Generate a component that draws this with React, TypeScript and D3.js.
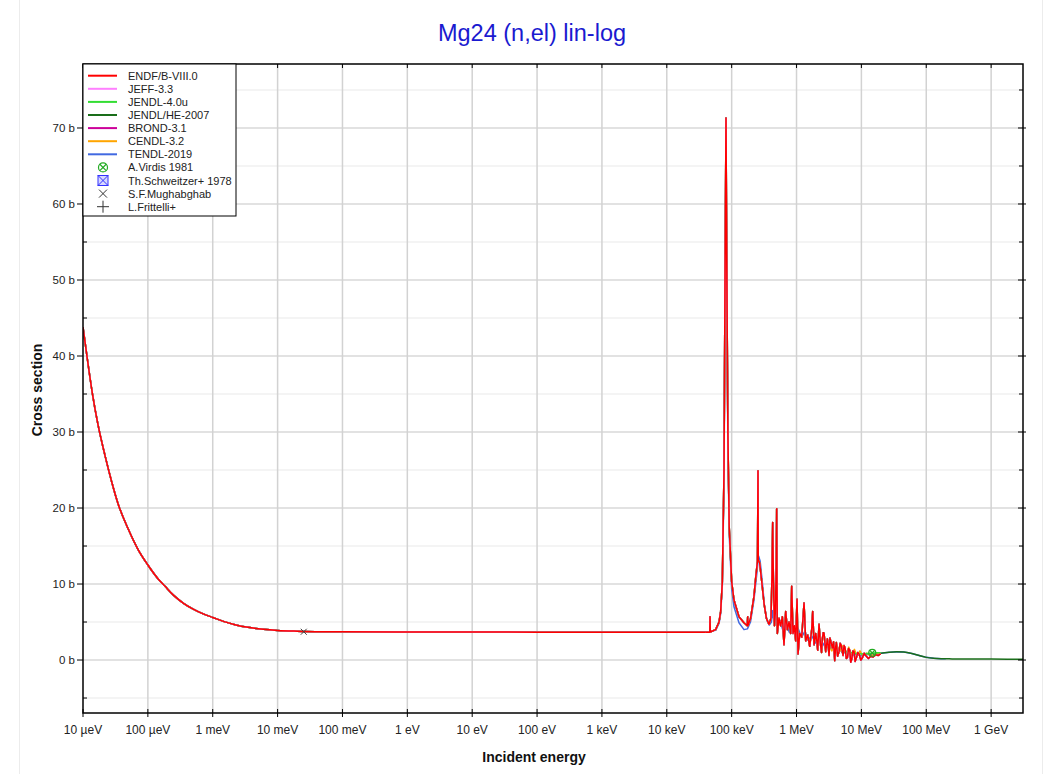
import React from 'react';
import * as d3 from 'd3';

const W = 1049, H = 774;
const PL = 83, PR = 1023, PT = 64, PB = 713;

const titleText = 'Mg24 (n,el) lin-log';
const xTickValues = [1e-5, 1e-4, 1e-3, 1e-2, 1e-1, 1, 10, 100, 1e3, 1e4, 1e5, 1e6, 1e7, 1e8, 1e9];
const xTickLabels = ['10 µeV', '100 µeV', '1 meV', '10 meV', '100 meV', '1 eV', '10 eV', '100 eV', '1 keV', '10 keV', '100 keV', '1 MeV', '10 MeV', '100 MeV', '1 GeV'];
const yMajorTicks = [0, 10, 20, 30, 40, 50, 60, 70];
const yMinorTicks = [-5, 5, 15, 25, 35, 45, 55, 65, 75];

// Low energy (shared by all evaluations), eV / barn
const lowE = [1e-5, 1.15e-5, 1.4e-5, 1.7e-5, 2.2e-5, 2.8e-5, 3.46e-5, 5e-5, 7e-5, 1e-4, 1.4e-4, 1.84e-4, 2.5e-4, 3.5e-4, 5e-4, 7e-4, 1e-3, 1.5e-3, 2.2e-3, 3.5e-3, 6e-3, 1e-2, 2e-2, 5e-2, 0.1, 1, 100, 1e4, 4e4];
const lowXS = [43.8, 40.0, 35.0, 31.0, 26.8, 23.3, 20.6, 17.2, 14.6, 12.5, 10.8, 9.7, 8.5, 7.5, 6.7, 6.1, 5.6, 5.05, 4.65, 4.3, 4.05, 3.9, 3.8, 3.73, 3.71, 3.69, 3.67, 3.66, 3.65];

// ENDF/B-VIII.0 resonance region
const endfResE = [4.0e4, 4.6e4, 4.64e4, 4.68e4, 5.66e4, 6.38e4, 6.77e4, 7.18e4, 7.62e4, 7.89e4, 8.18e4, 8.38e4, 8.74e4, 9.16e4, 1.0e5, 1.086e5, 1.297e5, 1.549e5, 1.739e5, 1.766e5, 1.78e5, 1.96e5, 2.21e5, 2.346e5, 2.5e5, 2.547e5, 2.57e5, 2.7e5, 2.91e5, 3.16e5, 3.43e5, 3.76e5, 4.04e5, 4.19e5, 4.29e5, 4.4e5, 4.57e5, 4.72e5, 4.88e5, 4.94e5, 5.0e5,
  5.06e5, 5.37e5, 5.7e5, 6.05e5, 6.41e5, 6.81e5, 7.22e5, 7.66e5, 8.13e5, 8.42e5, 8.83e5, 9.26e5, 9.71e5, 1.018e6, 1.055e6, 1.119e6, 1.202e6, 1.305e6, 1.385e6, 1.487e6, 1.597e6, 1.714e6, 1.776e6, 1.862e6, 1.975e6, 2.05e6, 2.121e6, 2.223e6, 2.29e6, 2.36e6, 2.43e6, 2.503e6, 2.58e6, 2.656e6, 2.818e6, 2.99e6, 3.08e6, 3.172e6, 3.27e6, 3.365e6, 3.57e6, 3.72e6, 3.88e6, 4.0e6, 4.116e6, 4.3e6, 4.524e6, 4.7e6, 4.859e6, 5.215e6, 5.4e6, 5.6e6, 5.85e6, 6.083e6, 6.35e6, 6.608e6, 6.85e6, 7.094e6, 7.4e6, 7.71e6, 8.0e6, 8.375e6, 8.8e6, 9.205e6, 9.8e6, 1.036e7, 1.1e7, 1.167e7, 1.28e7, 1.393e7, 1.52e7, 1.664e7, 1.82e7, 1.987e7];
const endfResXS = [3.65, 3.67, 5.7, 3.68, 4.0, 5.0, 6.4, 10.3, 24.9, 49, 71.3, 54, 30, 17.6, 10.3, 7.9, 5.7, 4.9, 4.5, 5.7, 4.5, 5.5, 8.4, 10.8, 13.0, 24.9, 13.2, 12.8, 10.3, 7.4, 5.5, 4.7, 5.5, 11.3, 18.1, 10.3, 4.5, 6.4, 12.8, 19.9, 10.3,
  3.5, 5.5, 4.5, 5.7, 2.0, 6.4, 4.0, 5.0, 3.5, 9.7, 3.5, 4.5, 2.5, 8.0, 0.8, 3.5, 3.0, 7.5, 2.5, 3.3, 1.8, 4.0, 6.4, 2.0, 3.5, 2.6, 1.3, 4.7, 3.1, 1.8, 1.0, 2.8, 3.6, 3.5, 1.1, 2.8, 1.9, 0.6, 2.9, 2.5, 1.6, 2.4, -0.1, 1.7, 2.3, 0.5, 1.1, 2.2, 2.0, 0.6, 1.9, 1.6, 0.2, 0.3, 1.5, 1.3, -0.3, 0.1, 1.2, 1.1, -0.2, 0.3, 1.0, 0.8, 0.0, 0.3, 0.9, 0.6, 0.2, 0.5, 0.4, 0.7, 0.6, 0.8];

// TENDL-2019 (resonance + high energy up to 200 MeV)
const tendlE = [4.0e4, 5.66e4, 6.38e4, 6.77e4, 7.18e4, 7.62e4, 7.89e4, 8.18e4, 8.38e4, 8.74e4, 9.16e4, 1.0e5, 1.086e5, 1.297e5, 1.55e5, 1.75e5, 1.95e5, 2.2e5, 2.45e5, 2.6e5, 2.75e5, 2.95e5, 3.2e5, 3.5e5, 3.8e5, 4.1e5, 4.3e5, 4.5e5, 4.7e5, 4.77e5, 4.85e5, 5.1e5, 5.6e5, 6.2e5, 7.0e5, 7.8e5, 8.6e5, 9.5e5, 1.05e6, 1.2e6, 1.35e6, 1.5e6, 1.7e6, 2.0e6, 2.4e6, 2.8e6, 3.3e6, 3.8e6, 4.5e6, 5.2e6, 6.0e6, 7.0e6, 8.5e6, 1.0e7, 1.2e7, 1.5e7, 2.0e7, 2.5e7, 3.5e7, 4.5e7, 6.0e7, 8.0e7, 1.0e8, 1.3e8, 1.7e8, 2.0e8];
const tendlXS = [3.65, 3.9, 4.8, 6.1, 9.8, 23.5, 46, 67, 51, 28.5, 16.6, 9.4, 7.0, 4.9, 4.0, 4.1, 5.0, 7.8, 11.5, 13.7, 13.0, 10.5, 7.2, 5.2, 4.6, 5.0, 6.5, 5.0, 6.5, 12.0, 6.0, 4.5, 5.2, 3.8, 4.6, 3.6, 4.8, 3.3, 4.2, 3.0, 3.8, 2.6, 3.2, 2.2, 2.6, 1.6, 2.0, 1.2, 1.5, 0.9, 1.1, 0.6, 0.8, 0.55, 0.7, 0.8, 0.9, 1.0, 1.1, 1.05, 0.85, 0.55, 0.35, 0.22, 0.17, 0.16];

// CENDL-3.2 fast region differences
const cendlTailE = [3.0e6, 3.5e6, 4.0e6, 4.6e6, 5.2e6, 5.8e6, 6.4e6, 7.0e6, 7.8e6, 8.6e6, 9.5e6, 1.05e7, 1.2e7, 1.4e7, 1.7e7, 2.0e7];
const cendlTailXS = [2.6, 1.2, 2.3, 1.1, 1.9, 0.8, 1.7, 0.6, 1.4, 0.5, 1.2, 0.5, 0.9, 0.6, 0.8, 0.85];

// JENDL-4.0u fast region differences
const jendl4TailE = [6.0e6, 7.0e6, 8.0e6, 9.0e6, 1.0e7, 1.2e7, 1.4e7, 1.7e7, 2.0e7];
const jendl4TailXS = [1.1, 1.0, 0.9, 0.85, 0.8, 0.85, 0.9, 0.95, 0.95];

// JENDL/HE-2007 high energy
const jendlHeE = [2.0e7, 2.5e7, 3.5e7, 4.5e7, 6.0e7, 8.0e7, 1.0e8, 1.3e8, 1.7e8, 2.5e8, 5.0e8, 1.0e9, 3.1e9];
const jendlHeXS = [0.9, 1.0, 1.1, 1.05, 0.85, 0.55, 0.35, 0.22, 0.17, 0.15, 0.13, 0.12, 0.11];

// Experimental data
const virdisE = [1.47e7];
const virdisXS = [0.95];
const mughabE = [0.0253];
const mughabXS = [3.72];

const libNames = ['ENDF/B-VIII.0', 'JEFF-3.3', 'JENDL-4.0u', 'JENDL/HE-2007', 'BROND-3.1', 'CENDL-3.2', 'TENDL-2019'];
const libColors = ['#ff0000', '#ff80ff', '#33dd33', '#1a6e1a', '#cc0099', '#ffa500', '#4169e1'];
const expNames = ['A.Virdis 1981', 'Th.Schweitzer+ 1978', 'S.F.Mughabghab', 'L.Frittelli+'];

type P = [number, number];
const zip = (a: number[], b: number[]): P[] => a.map((v, i) => [v, b[i]]);

export default function App() {
  const x = d3.scaleLog().domain([1e-5, 3.1e9]).range([PL, PR]);
  const y = d3.scaleLinear().domain([-6.97, 78.42]).range([PB, PT]);
  const lin = d3.line<P>().x(d => x(d[0])).y(d => y(d[1]));
  const smooth = d3.line<P>().x(d => x(d[0])).y(d => y(d[1])).curve(d3.curveMonotoneX);

  const low = zip(lowE, lowXS);
  const endfRes = zip(endfResE, endfResXS);
  const endfBelow3 = endfRes.filter(d => d[0] < 2.95e6);
  const endfBelow6 = endfRes.filter(d => d[0] < 5.95e6);

  // series in drawing order (bottom -> top)
  const series: { color: string; paths: string[] }[] = [
    { color: libColors[6], paths: [smooth(low) || '', lin(zip(tendlE, tendlXS)) || ''] },
    { color: libColors[5], paths: [smooth(low) || '', lin([...endfBelow3, ...zip(cendlTailE, cendlTailXS)]) || ''] },
    { color: libColors[4], paths: [smooth(low) || '', lin(endfRes) || ''] },
    { color: libColors[3], paths: [smooth(low) || '', lin(endfRes) || '', smooth(zip(jendlHeE, jendlHeXS)) || ''] },
    { color: libColors[2], paths: [smooth(low) || '', lin([...endfBelow6, ...zip(jendl4TailE, jendl4TailXS)]) || ''] },
    { color: libColors[1], paths: [smooth(low) || '', lin(endfRes) || ''] },
    { color: libColors[0], paths: [smooth(low) || '', lin(endfRes) || ''] },
  ];

  const font = "'Liberation Sans', Arial, sans-serif";
  const legendRowY = (i: number) => 75.7 + i * 13.1;

  const crossCircle = (cx: number, cy: number, r: number, color: string, key: string) => (
    <g key={key} stroke={color} strokeWidth={1.2} fill="none">
      <circle cx={cx} cy={cy} r={r} />
      <line x1={cx - r * 0.7} y1={cy - r * 0.7} x2={cx + r * 0.7} y2={cy + r * 0.7} />
      <line x1={cx - r * 0.7} y1={cy + r * 0.7} x2={cx + r * 0.7} y2={cy - r * 0.7} />
    </g>
  );

  return (
    <svg width={W} height={H} style={{ position: 'absolute', left: 0, top: 0, background: '#fff' }} fontFamily={font}>
      <defs>
        <clipPath id="plotClip">
          <rect x={PL} y={PT} width={PR - PL} height={PB - PT} />
        </clipPath>
      </defs>
      <line x1={19.5} y1={0} x2={19.5} y2={H} stroke="#ececec" strokeWidth={1} />
      <line x1={1042.5} y1={0} x2={1042.5} y2={H} stroke="#ececec" strokeWidth={1} />

      <text x={532} y={41} textAnchor="middle" fontSize={23.5} fill="#1a1ad0">{titleText}</text>

      {/* grid */}
      <g>
        {yMinorTicks.map(v => (
          <line key={'ym' + v} x1={PL} x2={PR} y1={y(v)} y2={y(v)} stroke="#f0f0f0" strokeWidth={1.5} />
        ))}
        {yMajorTicks.map(v => (
          <line key={'yg' + v} x1={PL} x2={PR} y1={y(v)} y2={y(v)} stroke="#d9d9d9" strokeWidth={1.5} />
        ))}
        {xTickValues.slice(1).map(v => (
          <line key={'xg' + v} x1={x(v)} x2={x(v)} y1={PT} y2={PB} stroke="#d2d2d2" strokeWidth={1.5} />
        ))}
      </g>

      {/* data */}
      <g clipPath="url(#plotClip)" fill="none" strokeLinejoin="round">
        {series.map((s, i) => (
          <g key={'s' + i} stroke={s.color} strokeWidth={1.5}>
            {s.paths.map((p, j) => <path key={j} d={p} />)}
          </g>
        ))}
        {virdisE.map((e, i) => crossCircle(x(e), y(virdisXS[i]), 3.5, '#22aa22', 'v' + i))}
        {mughabE.map((e, i) => {
          const cx = x(e), cy = y(mughabXS[i]);
          return (
            <g key={'m' + i} stroke="#444" strokeWidth={1}>
              <line x1={cx - 3} y1={cy - 3} x2={cx + 3} y2={cy + 3} />
              <line x1={cx - 3} y1={cy + 3} x2={cx + 3} y2={cy - 3} />
            </g>
          );
        })}
      </g>

      {/* frame */}
      <rect x={PL} y={PT} width={PR - PL} height={PB - PT} fill="none" stroke="#000" strokeWidth={1.5} />

      {/* axis ticks */}
      <g stroke="#000" strokeWidth={1}>
        {yMajorTicks.map(v => (
          <g key={'yt' + v}>
            <line x1={PL - 6} x2={PL} y1={y(v)} y2={y(v)} />
            <line x1={PR - 5} x2={PR + 3} y1={y(v)} y2={y(v)} />
          </g>
        ))}
        {yMinorTicks.map(v => (
          <g key={'ymt' + v}>
            <line x1={PL} x2={PL + 4} y1={y(v)} y2={y(v)} />
            <line x1={PR - 4} x2={PR} y1={y(v)} y2={y(v)} />
          </g>
        ))}
        {xTickValues.map(v => (
          <g key={'xt' + v}>
            <line x1={x(v)} x2={x(v)} y1={PB - 4} y2={PB + 4} />
            <line x1={x(v)} x2={x(v)} y1={PT} y2={PT + 4} />
          </g>
        ))}
      </g>

      <g fill="#222">
        {yMajorTicks.map(v => (
          <text key={'yl' + v} x={75} y={y(v) + 4} textAnchor="end" fontSize={11.5}>{v + ' b'}</text>
        ))}
        {xTickValues.map((v, i) => (
          <text key={'xl' + v} x={x(v)} y={734} textAnchor="middle" fontSize={12}>{xTickLabels[i]}</text>
        ))}
      </g>

      <text x={534} y={762} textAnchor="middle" fontSize={14} fontWeight="bold" fill="#111">Incident energy</text>
      <text transform="translate(42,390) rotate(-90)" textAnchor="middle" fontSize={14} fontWeight="bold" fill="#111">Cross section</text>

      {/* legend */}
      <g>
        <rect x={PL} y={PT} width={153} height={152} fill="#fff" stroke="#000" strokeWidth={1} />
        {libNames.map((n, i) => (
          <g key={'lg' + i}>
            <line x1={88} x2={117} y1={legendRowY(i)} y2={legendRowY(i)} stroke={libColors[i]} strokeWidth={2} />
            <text x={128} y={legendRowY(i) + 4} fontSize={11} fill="#222">{n}</text>
          </g>
        ))}
        {expNames.map((n, k) => {
          const i = k + libNames.length;
          const cy = legendRowY(i);
          const cx = 103;
          let marker: React.ReactNode = null;
          if (k === 0) marker = crossCircle(cx, cy, 4.5, '#22aa22', 'lv');
          if (k === 1) marker = (
            <g stroke="#3333ff" strokeWidth={1} fill="#d8d8ff">
              <rect x={cx - 5} y={cy - 5} width={10} height={10} />
              <line x1={cx - 5} y1={cy - 5} x2={cx + 5} y2={cy + 5} />
              <line x1={cx - 5} y1={cy + 5} x2={cx + 5} y2={cy - 5} />
            </g>
          );
          if (k === 2) marker = (
            <g stroke="#333" strokeWidth={1}>
              <line x1={cx - 4} y1={cy - 4} x2={cx + 4} y2={cy + 4} />
              <line x1={cx - 4} y1={cy + 4} x2={cx + 4} y2={cy - 4} />
            </g>
          );
          if (k === 3) marker = (
            <g stroke="#333" strokeWidth={1}>
              <line x1={cx - 6} y1={cy} x2={cx + 6} y2={cy} />
              <line x1={cx} y1={cy - 6} x2={cx} y2={cy + 6} />
            </g>
          );
          return (
            <g key={'le' + k}>
              {marker}
              <text x={128} y={cy + 4} fontSize={11} fill="#222">{n}</text>
            </g>
          );
        })}
      </g>
    </svg>
  );
}
